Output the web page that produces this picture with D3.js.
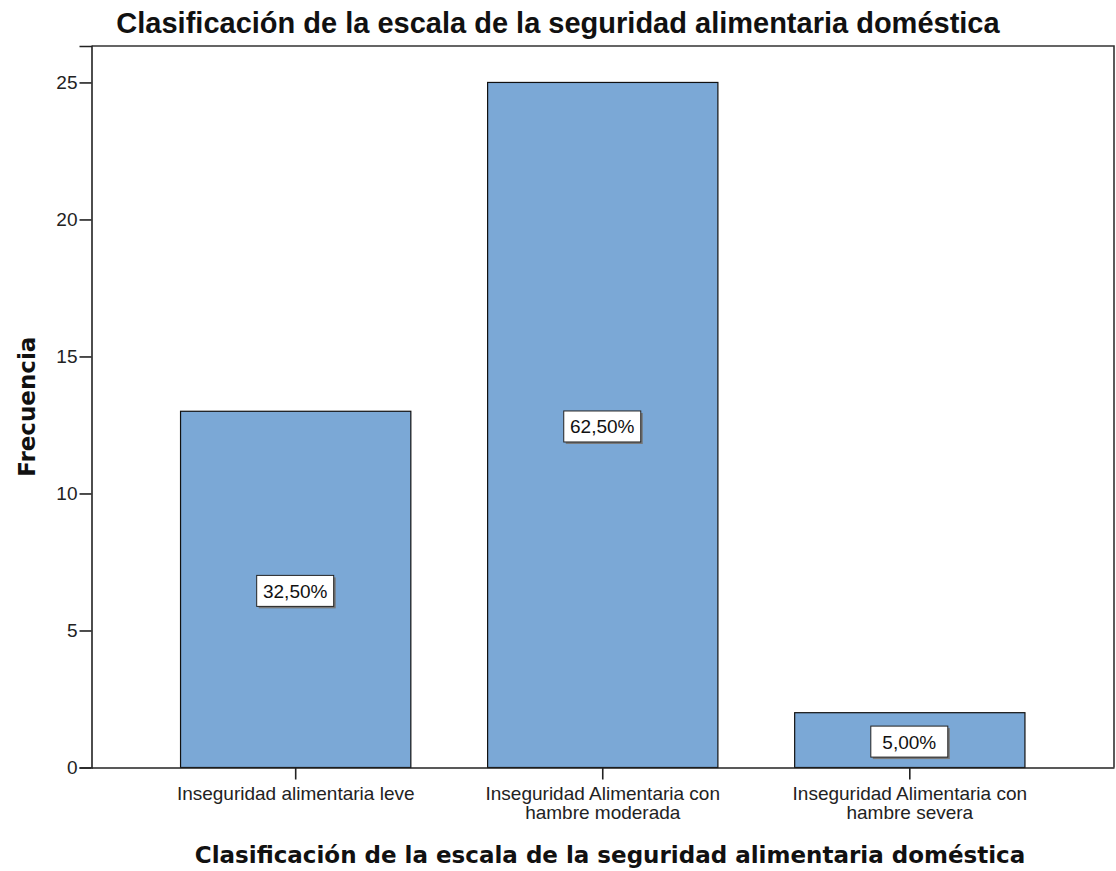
<!DOCTYPE html>
<html>
<head>
<meta charset="utf-8">
<script src="https://cdn.jsdelivr.net/npm/d3@7"></script>
<style>
	body { margin: 0; background: #fff; }
	svg { display: block; }
</style>
</head>
<body>
<svg id="chart" width="1116" height="871"></svg>
<script>
// data
const categories = [
	"Inseguridad alimentaria leve",
	"Inseguridad Alimentaria con hambre moderada",
	"Inseguridad Alimentaria con hambre severa"
];
const counts = [13, 25, 2];
const yTicks = [0, 5, 10, 15, 20, 25];

const title  = "Clasificación de la escala de la seguridad alimentaria doméstica";
const xTitle = "Clasificación de la escala de la seguridad alimentaria doméstica";
const yTitle = "Frecuencia";

// layout
const W = 1116, H = 871;
const plot = { left: 91.5, right: 1114, top: 46, bottom: 767.5 };
const yMax = 26.33;
const barFill = "#7ba8d6";
const sansFont = "'Liberation Sans', Arial, sans-serif";
const boldFont = "'DejaVu Sans', Verdana, sans-serif";

const svg = d3.select("#chart");

const x = d3.scaleBand()
	.domain(categories)
	.range([plot.left, plot.right])
	.paddingInner(0.25)
	.paddingOuter(0.29);

const y = d3.scaleLinear()
	.domain([0, yMax])
	.range([plot.bottom, plot.top]);

const total = d3.sum(counts);

// frame (top + right)
svg.append("path")
	.attr("d", `M${plot.left},${plot.top}H${plot.right}V${plot.bottom}`)
	.attr("fill", "none")
	.attr("stroke", "#333")
	.attr("stroke-width", 1.6);

// bars
svg.append("g")
	.selectAll("rect")
	.data(counts)
	.join("rect")
		.attr("x", (d, i) => x(categories[i]))
		.attr("y", d => y(d))
		.attr("width", x.bandwidth())
		.attr("height", d => y(0) - y(d))
		.attr("fill", barFill)
		.attr("stroke", "#111")
		.attr("stroke-width", 1.2);

// y axis
const yAxis = svg.append("g")
	.attr("transform", `translate(${plot.left},0)`)
	.call(d3.axisLeft(y).tickValues(yTicks).tickSize(12).tickPadding(2).tickFormat(d3.format("d")));
yAxis.select(".domain").attr("stroke", "#222").attr("stroke-width", 1.6);
yAxis.selectAll(".tick line").attr("stroke", "#222").attr("stroke-width", 1.6);
yAxis.selectAll(".tick text")
	.attr("font-family", sansFont)
	.attr("font-size", 19)
	.attr("fill", "#222");

// x axis
const xAxis = svg.append("g")
	.attr("transform", `translate(0,${plot.bottom})`)
	.call(d3.axisBottom(x).tickSize(12).tickPadding(7).tickSizeOuter(0));
xAxis.select(".domain").attr("stroke", "#222").attr("stroke-width", 1.6);
xAxis.selectAll(".tick line").attr("stroke", "#222").attr("stroke-width", 1.6);
xAxis.selectAll(".tick text")
	.attr("font-family", sansFont)
	.attr("font-size", 19)
	.attr("fill", "#222")
	.call(wrap, 255);

// value labels in boxes
const labels = svg.append("g")
	.selectAll("g")
	.data(counts)
	.join("g")
		.attr("transform", (d, i) => `translate(${x(categories[i]) + x.bandwidth() / 2},${y(d / 2) + 2})`);

labels.append("rect")
	.attr("x", -37).attr("y", -14)
	.attr("width", 77).attr("height", 31)
	.attr("fill", "#777");
labels.append("rect")
	.attr("x", -39).attr("y", -16)
	.attr("width", 77).attr("height", 31)
	.attr("fill", "#fff")
	.attr("stroke", "#222")
	.attr("stroke-width", 1);
labels.append("text")
	.attr("x", -0.5)
	.attr("y", 6.5)
	.attr("text-anchor", "middle")
	.attr("font-family", sansFont)
	.attr("font-size", 19)
	.attr("fill", "#111")
	.text(d => (d / total * 100).toFixed(2).replace(".", ",") + "%");

// titles
svg.append("text")
	.attr("x", 558)
	.attr("y", 33)
	.attr("text-anchor", "middle")
	.attr("font-family", sansFont)
	.attr("font-weight", "bold")
	.attr("font-size", 29)
	.attr("fill", "#111")
	.text(title);

svg.append("text")
	.attr("x", 610)
	.attr("y", 863)
	.attr("text-anchor", "middle")
	.attr("font-family", boldFont)
	.attr("font-weight", "bold")
	.attr("font-size", 23)
	.attr("fill", "#111")
	.text(xTitle);

svg.append("text")
	.attr("transform", `translate(35,${(plot.top + plot.bottom) / 2}) rotate(-90)`)
	.attr("text-anchor", "middle")
	.attr("font-family", boldFont)
	.attr("font-weight", "bold")
	.attr("font-size", 23)
	.attr("fill", "#111")
	.text(yTitle);

// Helpers
function wrap(texts, width) {
	texts.each(function () {
		const text = d3.select(this);
		const words = text.text().split(/\s+/);
		const yPos = text.attr("y");
		const dy = parseFloat(text.attr("dy"));
		let line = [];
		let lineNo = 0;
		let tspan = text.text(null).append("tspan").attr("x", 0).attr("y", yPos).attr("dy", dy + "em");
		words.forEach(word => {
			line.push(word);
			tspan.text(line.join(" "));
			if (tspan.node().getComputedTextLength() > width && line.length > 1) {
				line.pop();
				tspan.text(line.join(" "));
				line = [word];
				lineNo++;
				tspan = text.append("tspan")
					.attr("x", 0).attr("y", yPos)
					.attr("dy", (lineNo * 1.0 + dy) + "em")
					.text(word);
			}
		});
	});
}
</script>
</body>
</html>
